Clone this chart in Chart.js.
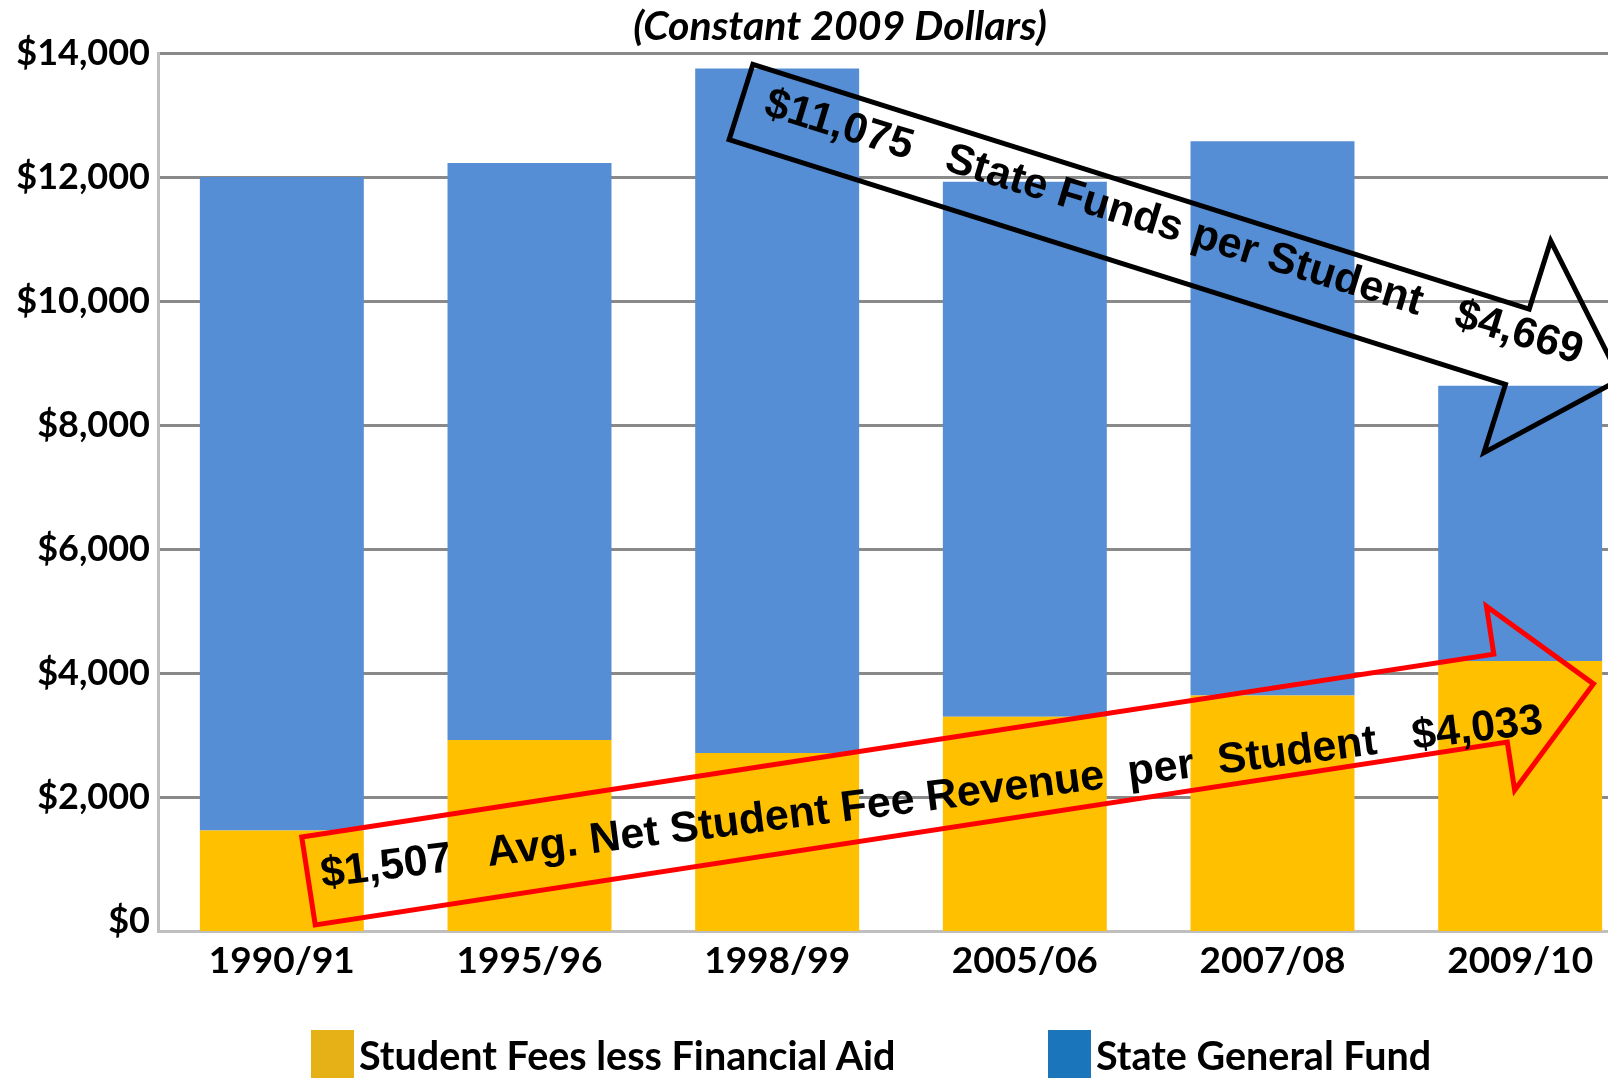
<!DOCTYPE html>
<html>
<head>
<meta charset="utf-8">
<script src="https://cdn.jsdelivr.net/npm/chart.js@4.4.1/dist/chart.umd.min.js"></script>
<style>
  html, body { margin: 0; padding: 0; background: #fff; overflow: hidden; }
  #wrap { position: relative; width: 1680px; height: 1078px; }
  #title { position: absolute; left: 0; top: 0; width: 1680px; line-height: 50px; text-align: center;
           font: italic bold 41px Lato, "Open Sans", sans-serif; color: #000; }
  .legend-item { position: absolute; top: 1030px; height: 48px; display: flex; align-items: center;
                 font: bold 39.5px Lato, "Open Sans", sans-serif; color: #000; white-space: nowrap; }
  .legend-swatch { width: 43px; height: 48px; margin-right: 5px; }
</style>
</head>
<body>
<div id="wrap">
  <canvas id="chart" width="1680" height="1078"></canvas>
  <div id="title"></div>
  <div id="legend"></div>
</div>
<script>
// --- data ---
const years = ["1990/91", "1995/96", "1998/99", "2005/06", "2007/08", "2009/10"];
const feeValues = [1460, 2920, 2710, 3295, 3640, 4195];    // Student Fees less Financial Aid
const stateValues = [10540, 9305, 11040, 8630, 8935, 4440]; // State General Fund
const seriesNames = ["Student Fees less Financial Aid", "State General Fund"];
const yTickValues = [0, 2000, 4000, 6000, 8000, 10000, 12000, 14000];
const chartTitle = "(Constant 2009 Dollars)";

// --- styles ---
const barColors = ["#FFC000", "#558ED5"];
const legendColors = ["#E6B117", "#1A75BB"];
const legendLeft = [311, 1048];
// the original draws its category axis a little below the $0 gridline
const axisFloor = -160;

// call-out arrows drawn on top of the plot (canvas pixels)
const arrows = [
  { x: 741, y: 102, angle: 17.5, len: 814, half: 39.5, headHalf: 111, headLen: 108,
    color: "#000000", textAngle: 17.0, textX: 24, textY: -6,
    text: "$11,075   State Funds per Student   $4,669" },
  { x: 308.5, y: 881, angle: -8.72, len: 1206, half: 44.5, headHalf: 93, headLen: 94,
    color: "#FF0000", textAngle: -7.2, textX: 13, textY: -4,
    text: "$1,507   Avg. Net Student Fee Revenue  per  Student   $4,033" }
];

const arrowPlugin = {
  id: "callouts",
  afterDraw(chart) {
    const ctx = chart.ctx;
    arrows.forEach(a => {
      ctx.save();
      ctx.translate(a.x, a.y);
      ctx.rotate(a.angle * Math.PI / 180);
      ctx.beginPath();
      ctx.moveTo(0, -a.half);
      ctx.lineTo(a.len, -a.half);
      ctx.lineTo(a.len, -a.headHalf);
      ctx.lineTo(a.len + a.headLen, 0);
      ctx.lineTo(a.len, a.headHalf);
      ctx.lineTo(a.len, a.half);
      ctx.lineTo(0, a.half);
      ctx.closePath();
      ctx.lineWidth = 5;
      ctx.lineJoin = "miter";
      ctx.strokeStyle = a.color;
      ctx.stroke();
      ctx.restore();

      ctx.save();
      ctx.translate(a.x, a.y);
      ctx.rotate(a.textAngle * Math.PI / 180);
      ctx.fillStyle = "#000";
      ctx.font = "bold 43px 'Liberation Sans', Arial, sans-serif";
      ctx.textAlign = "left";
      ctx.textBaseline = "middle";
      ctx.fillText(a.text, a.textX, a.textY);
      ctx.restore();
    });
  }
};

new Chart(document.getElementById("chart"), {
  type: "bar",
  data: {
    labels: years,
    datasets: [
      { label: seriesNames[0], data: feeValues, backgroundColor: barColors[0], borderWidth: 0, base: axisFloor },
      { label: seriesNames[1], data: stateValues, backgroundColor: barColors[1], borderWidth: 0 }
    ]
  },
  options: {
    responsive: false,
    animation: false,
    layout: { padding: { left: 0, right: 36, top: 53, bottom: 0 } },
    datasets: { bar: { categoryPercentage: 0.662, barPercentage: 1 } },
    plugins: {
      legend: { display: false },
      tooltip: { enabled: false },
      title: { display: false }
    },
    scales: {
      x: {
        stacked: true,
        grid: { display: false, drawTicks: false },
        border: { display: true, color: "#BFBFBF", width: 3 },
        ticks: {
          color: "#000",
          padding: 8,
          font: { family: "Lato, 'Open Sans', sans-serif", size: 37, weight: "bold" }
        },
        afterFit(scale) { scale.height = 147; }
      },
      y: {
        stacked: true,
        min: axisFloor,
        max: 14000,
        afterBuildTicks(scale) {
          scale.ticks = yTickValues.map(v => ({ value: v }));
        },
        grid: {
          color: c => c.tick.value === 0 ? "rgba(0,0,0,0)" : "#898989",
          lineWidth: 3,
          drawTicks: false
        },
        border: { display: true, color: "#BFBFBF", width: 3 },
        ticks: {
          color: "#000",
          padding: 8,
          font: { family: "Lato, 'Open Sans', sans-serif", size: 36, weight: "bold" },
          callback: v => "$" + v.toLocaleString("en-US")
        },
        afterFit(scale) { scale.width = 158; }
      }
    }
  },
  plugins: [arrowPlugin]
});

document.getElementById("title").textContent = chartTitle;

// legend as html text
const legendEl = document.getElementById("legend");
seriesNames.forEach((name, i) => {
  const item = document.createElement("div");
  item.className = "legend-item";
  item.style.left = legendLeft[i] + "px";
  item.innerHTML = `<div class="legend-swatch" style="background:${legendColors[i]}"></div><span>${name}</span>`;
  legendEl.appendChild(item);
});
</script>
</body>
</html>
